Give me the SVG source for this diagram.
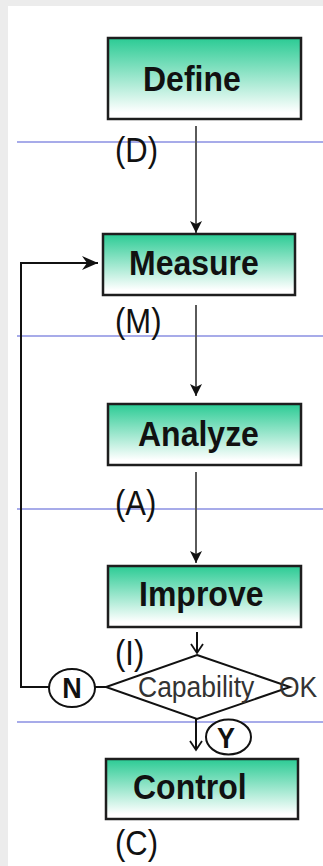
<svg xmlns="http://www.w3.org/2000/svg" width="323" height="866" viewBox="0 0 323 866">
  <style>
    .box { stroke: #1e1e1e; stroke-width: 2.5; fill: url(#boxFill); }
    .boxText { font-family: "Liberation Sans", Arial, sans-serif; font-weight: bold; font-size: 32px; fill: #111; }
    .phase { font-family: "Liberation Sans", Arial, sans-serif; font-size: 31px; fill: #111; }
    .sep { stroke: #8a8fe2; stroke-width: 1.6; }
    .flow { stroke: #5a5a5a; stroke-width: 2; fill: none; }
    .loop { stroke: #111; stroke-width: 2; fill: none; }
    .badge { fill: #fff; stroke: #111; stroke-width: 2; }
    .badgeText { font-family: "Liberation Sans", Arial, sans-serif; font-weight: bold; font-size: 27px; fill: #111; text-anchor: middle; }
    .decision { fill: #fff; stroke: #111; stroke-width: 2; }
    .decisionText { font-family: "Liberation Sans", Arial, sans-serif; font-size: 26.5px; fill: #333; }
  </style>
  <defs>
    <linearGradient id="boxFill" x1="0" y1="0" x2="0" y2="1">
      <stop offset="0" stop-color="#2bcb94"/>
      <stop offset="0.92" stop-color="#ffffff"/>
    </linearGradient>
    <marker id="barb" markerUnits="userSpaceOnUse" markerWidth="16" markerHeight="14" viewBox="0 0 16 14" refX="16" refY="7" orient="auto">
      <path d="M0,0 L16,7 L0,14 L5,7 Z" fill="#111"/>
    </marker>
    <marker id="barbSmall" markerUnits="userSpaceOnUse" markerWidth="12" markerHeight="12" viewBox="0 0 12 12" refX="12" refY="6" orient="auto">
      <path d="M0,0 L12,6 L0,12 L3,6 Z" fill="#111"/>
    </marker>
    <marker id="chevron" markerUnits="userSpaceOnUse" markerWidth="12" markerHeight="14" viewBox="0 0 12 14" refX="10" refY="7" orient="auto">
      <path d="M1,1 L10,7 L1,13" fill="none" stroke="#111" stroke-width="1.8"/>
    </marker>
  </defs>

  <!-- page -->
  <rect x="0" y="0" width="323" height="866" fill="#ececec"/>
  <rect x="8" y="6" width="315" height="860" fill="#ffffff"/>

  <!-- phase separators -->
  <g id="separators">
    <line class="sep" x1="17" y1="142" x2="323" y2="142"/>
    <line class="sep" x1="17" y1="336" x2="323" y2="336"/>
    <line class="sep" x1="17" y1="509" x2="323" y2="509"/>
    <line class="sep" x1="17" y1="722" x2="323" y2="722"/>
  </g>

  <!-- connectors -->
  <g id="connectors">
    <line class="flow" x1="196" y1="126" x2="196" y2="233" marker-end="url(#barbSmall)"/>
    <line class="flow" x1="196" y1="305" x2="196" y2="396" marker-end="url(#barbSmall)"/>
    <line class="flow" x1="196" y1="472" x2="196" y2="563" marker-end="url(#barbSmall)"/>
    <line class="loop" x1="197" y1="632" x2="197" y2="653" stroke-width="1.8" marker-end="url(#chevron)"/>
    <line class="loop" x1="196" y1="719" x2="196" y2="750" stroke-width="1.8" marker-end="url(#chevron)"/>
    <line class="loop" x1="106" y1="687" x2="95" y2="687"/>
    <polyline class="loop" points="49,687 21,687 21,263 98,263" marker-end="url(#barb)"/>
  </g>

  <g id="define">
    <rect class="box" x="108" y="38" width="193" height="81"/>
    <text class="boxText" transform="translate(143,90.5) scale(1,1.12)">Define</text>
    <text class="phase" transform="translate(115,162) scale(1,1.12)">(D)</text>
  </g>

  <g id="measure">
    <rect class="box" x="103" y="234" width="192" height="61"/>
    <text class="boxText" transform="translate(129,275) scale(1,1.12)">Measure</text>
    <text class="phase" transform="translate(115,333) scale(1,1.12)">(M)</text>
  </g>

  <g id="analyze">
    <rect class="box" x="108" y="404" width="193" height="61"/>
    <text class="boxText" transform="translate(138,445.5) scale(1,1.12)">Analyze</text>
    <text class="phase" transform="translate(115,515) scale(1,1.12)">(A)</text>
  </g>

  <g id="improve">
    <rect class="box" x="108" y="566" width="193" height="61"/>
    <text class="boxText" transform="translate(139,605.5) scale(1,1.12)">Improve</text>
    <text class="phase" transform="translate(115,665) scale(1,1.12)">(I)</text>
  </g>

  <g id="capability-check">
    <polygon class="decision" points="197,655 290,687 197,719 106,687"/>
    <text class="decisionText" transform="translate(138,697) scale(1,1.1)">Capability <tspan x="141">OK</tspan></text>
  </g>

  <g id="no-badge">
    <ellipse class="badge" cx="72" cy="688" rx="23" ry="19"/>
    <text class="badgeText" transform="translate(72,698) scale(1,1.12)">N</text>
  </g>

  <g id="yes-badge">
    <ellipse class="badge" cx="228.5" cy="737" rx="22.5" ry="17.5"/>
    <text class="badgeText" transform="translate(226,748) scale(1,1.12)">Y</text>
  </g>

  <g id="control">
    <rect class="box" x="106" y="759" width="192" height="60"/>
    <text class="boxText" transform="translate(133,799) scale(1,1.12)">Control</text>
    <text class="phase" transform="translate(115,855) scale(1,1.12)">(C)</text>
  </g>
</svg>
